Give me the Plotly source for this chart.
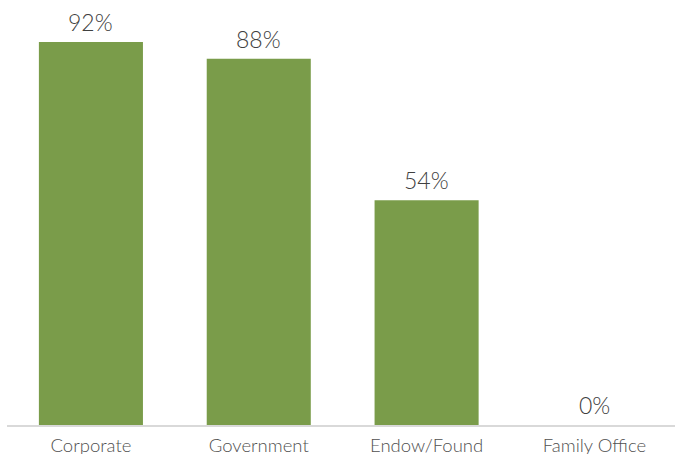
import plotly.graph_objects as go

categories = ["Corporate", "Government", "Endow/Found", "Family Office"]
values = [92, 88, 54, 0]
labels = ["92%", "88%", "54%", "0%"]

fig = go.Figure(go.Bar(
    x=categories, y=values,
    marker=dict(color="#7a9c4a", line=dict(width=0)),
    hoverinfo="skip",
))
annotations = [
    dict(x=c, y=v, text=t, showarrow=False, yanchor="bottom", yshift=4,
         font=dict(family="Lato", size=23, color="#404040", weight=300))
    for c, v, t in zip(categories, values, labels)
]
fig.update_layout(
    width=675, height=454,
    margin=dict(l=7, r=0, t=0, b=29),
    paper_bgcolor="white", plot_bgcolor="white",
    bargap=0.38, showlegend=False,
    font=dict(family="Lato", color="#404040"),
    annotations=annotations,
)
fig.update_xaxes(range=[-0.5, 3.48], showline=True, linecolor="#d9d9d9", linewidth=1.5,
                 ticks="", tickfont=dict(family="Lato", size=18.5, color="#505050", weight=300),
                 ticklabelstandoff=3, automargin=False)
fig.update_yaxes(range=[0, 102.1], visible=False, showgrid=False, zeroline=False, automargin=False)
fig.write_html("out.html")
